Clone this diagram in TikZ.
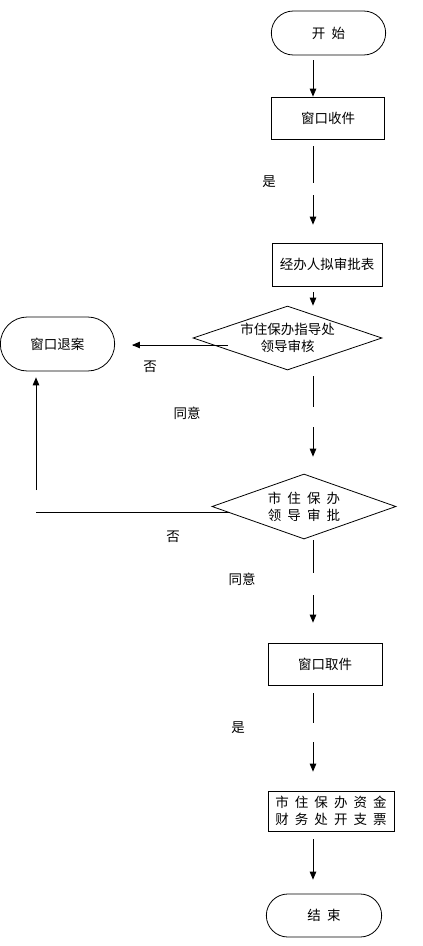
\documentclass[tikz,border=0pt]{standalone}
\usepackage{fontspec}
\setmainfont{Noto Sans CJK SC}[WordSpace=2]
\usetikzlibrary{shapes,arrows}
\tikzset{%
	block/.style    	= {draw, rectangle, minimum height = 42pt, minimum width = 113pt, inner sep = 2pt},
	term/.style     	= {draw, rounded rectangle, minimum height = 44pt, minimum width = 121pt}, % Start / end
	decision/.style 	= {draw, diamond, aspect = 3, inner sep = 0pt, align = center},
	note/.style     	= {inner sep = 0pt}, % Labels beside the lines
	gap/.style      	= {coordinate}
}
\begin{document}
\begin{tikzpicture}[x=1pt, y=-1pt, line width=0.8pt, >=triangle 45, font=\fontsize{13.5}{17}\selectfont]
	\useasboundingbox (0,0) rectangle (423,946);
	% Main chain of steps :
	\node [term] (start) at (328.5,33) {开 始};
	\node [block] (recv) at (328,118) {窗口收件};
	\node [block, minimum width=110pt, minimum height=43pt] (draft) at (327,264.5) {经办人拟审批表};
	\node [decision, minimum width=189pt, minimum height=64pt] (check1) at (287.5,338) {市住保办指导处\\领导审核};
	\node [term, minimum height=54pt] (back) at (57.5,344) {窗口退案};
	\node [decision, minimum width=184pt, minimum height=65pt] (check2) at (304,506.5) {市 住 保 办\\领 导 审 批};
	\node [block, minimum width=114pt] (fetch) at (325,664) {窗口取件};
	\node [block, minimum width=126pt, minimum height=40pt, align=center] (pay) at (331,811) {市 住 保 办 资 金\\财 务 处 开 支 票};
	\node [term, minimum width=122pt, minimum height=43pt] (end) at (324,915.5) {结 束};

	% Labels
	\node [note] (yes1) at (269,182) {是};
	\node [note] (nolab1) at (150,367) {否};
	\node [note] (agree1) at (187,413) {同意};
	\node [note] (nolab2) at (173,537) {否};
	\node [note] (agree2) at (242,579) {同意};
	\node [note] (yes2) at (238,728) {是};

	% Points where the lines break
	\coordinate (spine) at (313,0);
	\node [gap] (gap1a) at (313,183) {};
	\node [gap] (gap1b) at (313,195) {};
	\node [gap] (gap2a) at (313,407) {};
	\node [gap] (gap2b) at (313,427) {};
	\node [gap] (gap3a) at (313,573) {};
	\node [gap] (gap3b) at (313,595) {};
	\node [gap] (gap4a) at (313,723) {};
	\node [gap] (gap4b) at (313,742) {};
	\node [gap] (no1) at (228,345) {};
	\node [gap] (no2) at (230,512) {};
	\node [gap] (turn) at (36,512) {};
	\node [gap] (rise) at (36,490) {};

	% Joining blocks.
	\draw[->, shorten <=5pt] (start.south -| spine) -- (recv.north -| spine);
	\draw[shorten <=7pt] (recv.south -| spine) -- (gap1a);
	\draw[->, shorten >=18pt] (gap1b) -- (draft.north -| spine);
	\draw[->, shorten <=6pt] (draft.south -| spine) -- (check1.north -| spine);
	\draw[shorten <=6pt] (check1.south -| spine) -- (gap2a);
	\draw[->, shorten >=17pt] (gap2b) -- (check2.north -| spine);
	\draw[shorten <=1pt] (check2.south -| spine) -- (gap3a);
	\draw[->, shorten >=20pt] (gap3b) -- (fetch.north -| spine);
	\draw[shorten <=8pt] (fetch.south -| spine) -- (gap4a);
	\draw[->, shorten >=19pt] (gap4b) -- (pay.north -| spine);
	\draw[->, shorten <=8pt, shorten >=14pt] (pay.south -| spine) -- (end.north -| spine);

	% Refused cases
	\draw[->, shorten >=17pt] (no1) -- (no1 -| back.east);
	\draw (no2) -- (turn);
	\draw[->, shorten >=6pt] (rise) -- (rise |- back.south);
\end{tikzpicture}
\end{document}
